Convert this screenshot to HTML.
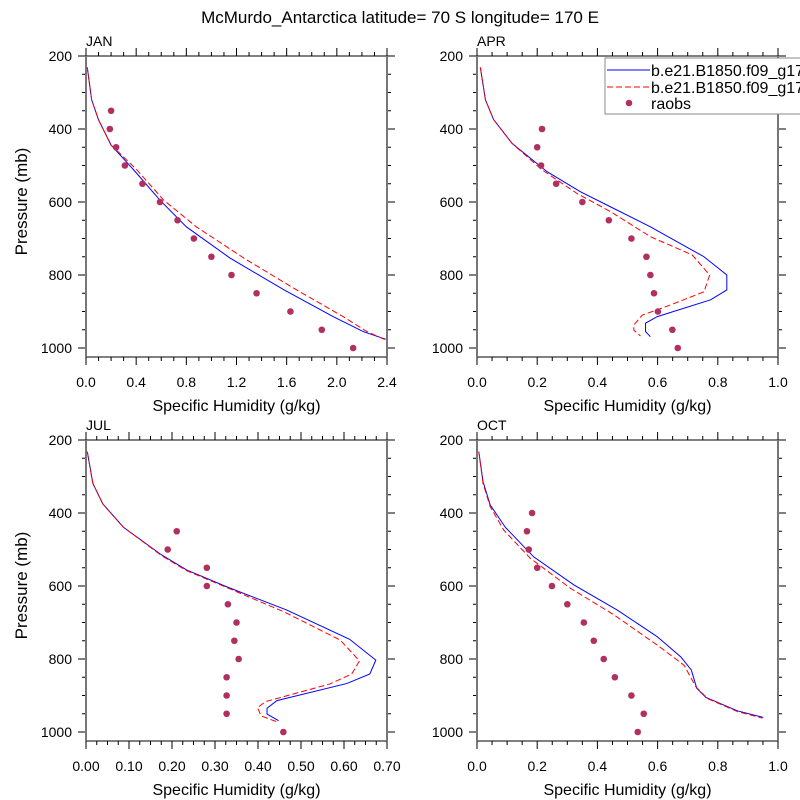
<!DOCTYPE html>
<html><head><meta charset="utf-8">
<style>
html,body{margin:0;padding:0;background:#fff;}
svg{display:block;font-family:"Liberation Sans",sans-serif;}
</style></head>
<body>
<svg id="chart" width="800" height="800" viewBox="0 0 800 800">
<rect width="800" height="800" fill="#fff"/>
<text x="400" y="23" font-size="17" text-anchor="middle">McMurdo_Antarctica  latitude= 70 S longitude= 170 E</text>
</svg>
<script>
// JAN
const janBlueQ=[0.01,0.045,0.10,0.20,0.38,0.59,0.80,1.15,1.58,1.97,2.21,2.39];
const janBlueP=[231,320,375,444,512,595,668,754,841,914,955,976];
const janRedQ=[0.01,0.045,0.10,0.20,0.40,0.62,0.88,1.26,1.68,2.05,2.24,2.39];
const janRedP=[231,320,375,444,510,595,668,754,841,914,955,978];
const janObsQ=[0.20,0.19,0.24,0.31,0.45,0.59,0.73,0.86,1.00,1.16,1.36,1.63,1.88,2.13];
const janObsP=[350,400,450,500,550,600,650,700,750,800,850,900,950,1000];
// APR
const aprBlueQ=[0.011,0.028,0.055,0.116,0.233,0.344,0.443,0.576,0.754,0.83,0.83,0.776,0.599,0.56,0.56,0.576];
const aprBlueP=[231,320,374,439,517,572,613,668,750,800,841,868,914,932,955,969];
const aprRedQ=[0.011,0.028,0.055,0.116,0.216,0.333,0.443,0.576,0.715,0.773,0.754,0.643,0.549,0.521,0.521,0.543];
const aprRedP=[231,320,374,439,512,577,626,695,745,800,846,882,910,937,951,967];
const aprObsQ=[0.216,0.20,0.213,0.263,0.35,0.438,0.513,0.563,0.576,0.588,0.601,0.649,0.667];
const aprObsP=[400,450,500,550,600,650,700,750,800,850,900,950,1000];
// JUL
const julBlueQ=[0.003,0.016,0.039,0.087,0.176,0.234,0.327,0.467,0.613,0.674,0.66,0.607,0.444,0.421,0.421,0.448];
const julBlueP=[232,319,375,439,515,556,602,666,746,803,841,867,914,935,951,969];
const julRedQ=[0.003,0.016,0.039,0.087,0.176,0.234,0.327,0.459,0.591,0.636,0.618,0.568,0.417,0.399,0.407,0.444];
const julRedP=[232,319,375,439,517,558,604,670,748,805,841,868,917,933,956,972];
const julObsQ=[0.211,0.19,0.281,0.281,0.33,0.35,0.345,0.355,0.327,0.327,0.327,0.459];
const julObsP=[450,500,550,600,650,700,750,800,850,900,950,1000];
// OCT
const octBlueQ=[0.006,0.02,0.044,0.094,0.188,0.322,0.466,0.599,0.677,0.712,0.73,0.76,0.865,0.951];
const octBlueP=[232,314,378,439,520,597,666,739,794,830,880,905,942,960];
const octRedQ=[0.006,0.02,0.044,0.089,0.177,0.31,0.455,0.599,0.688,0.727,0.765,0.865,0.948];
const octRedP=[232,319,383,447,524,606,679,762,817,876,908,944,962];
const octObsQ=[0.183,0.166,0.172,0.2,0.249,0.3,0.355,0.388,0.421,0.458,0.513,0.554,0.534];
const octObsP=[400,450,500,550,600,650,700,750,800,850,900,950,1000];

const janXTicks=["0.0","0.4","0.8","1.2","1.6","2.0","2.4"];
const aprXTicks=["0.0","0.2","0.4","0.6","0.8","1.0"];
const julXTicks=["0.00","0.10","0.20","0.30","0.40","0.50","0.60","0.70"];
const yTicks=[200,400,600,800,1000];

const NS="http://www.w3.org/2000/svg";
const svg=document.getElementById('chart');
function mk(tag,attrs,parent){const e=document.createElementNS(NS,tag);for(const k in attrs)e.setAttribute(k,attrs[k]);(parent||svg).appendChild(e);return e;}

function panel(name,x0,y0,xmax,xTicks,minorStep,blueQ,blueP,redQ,redP,obsQ,obsP,leftLabels){
  const W=301,H=301;
  const g=mk('g',{});
  
  
  const sx=v=>x0+v/xmax*W;
  const sy=p=>y0+(p-200)*0.365;
  for(let p=200;p<=1025;p+=50){
    const maj=p%200===0; const L=maj?8:4; const y=sy(p);
    mk('line',{x1:x0-L,x2:x0,y1:y,y2:y,stroke:'#000','stroke-width':1},g);
    mk('line',{x1:x0+W,x2:x0+W+L,y1:y,y2:y,stroke:'#000','stroke-width':1},g);
  }
  const nMin=Math.round(xmax/minorStep);
  const majEvery=Math.round(nMin/(xTicks.length-1));
  for(let i=0;i<=nMin;i++){
    const x=x0+i/nMin*W; const L=(i%majEvery===0)?8:4;
    mk('line',{x1:x,x2:x,y1:y0-L,y2:y0,stroke:'#000','stroke-width':1},g);
    mk('line',{x1:x,x2:x,y1:y0+H,y2:y0+H+L,stroke:'#000','stroke-width':1},g);
  }
  mk('line',{x1:x0,x2:x0+W,y1:y0,y2:y0,stroke:'#000','stroke-width':1},g);
  mk('line',{x1:x0,x2:x0+W,y1:y0+H,y2:y0+H,stroke:'#000','stroke-width':1},g);
  mk('line',{x1:x0,x2:x0,y1:y0,y2:y0+H,stroke:'#777','stroke-width':2},g);
  mk('line',{x1:x0+W,x2:x0+W,y1:y0,y2:y0+H,stroke:'#777','stroke-width':2},g);
  xTicks.forEach((t,i)=>{
    const tx=mk('text',{x:x0+i/(xTicks.length-1)*W,y:y0+H+30,'font-size':14,'text-anchor':'middle'},g);tx.textContent=t;
    
    
  });
  yTicks.forEach(p=>{
    const tx=mk('text',{x:x0-14,y:sy(p)+5,'font-size':14,'text-anchor':'end'},g);tx.textContent=p;
    
    
  });
  const xt=mk('text',{x:x0+W/2,y:y0+H+54,'font-size':16,'text-anchor':'middle'},g);
  xt.textContent='Specific Humidity (g/kg)';
  
  
  if(leftLabels){
    const yt=mk('text',{x:0,y:0,'font-size':17,'text-anchor':'middle',transform:`translate(27,${y0+H/2-5}) rotate(-90)`},g);
    yt.textContent='Pressure (mb)';
    
    
  }
  const pl=mk('text',{x:x0,y:y0-10,'font-size':14},g);
  pl.textContent=name.toUpperCase();
  
  
  const bl=mk('polyline',{points:blueQ.map((q,i)=>sx(q)+','+sy(blueP[i])).join(' '),fill:'none',stroke:'#0000ff','stroke-width':1},g);
  
  
  const rl=mk('polyline',{points:redQ.map((q,i)=>sx(q)+','+sy(redP[i])).join(' '),fill:'none',stroke:'#ff0000','stroke-width':1,'stroke-dasharray':'6,3'},g);
  
  
  obsQ.forEach((q,i)=>{
    const c=mk('circle',{cx:sx(q),cy:sy(obsP[i]),r:3.3,fill:'#b03060'},g);
    
    
  });
}
panel('jan',86,56,2.4,janXTicks,0.1,janBlueQ,janBlueP,janRedQ,janRedP,janObsQ,janObsP,true);
panel('apr',477,56,1.0,aprXTicks,0.05,aprBlueQ,aprBlueP,aprRedQ,aprRedP,aprObsQ,aprObsP,false);
panel('jul',86,440,0.7,julXTicks,0.025,julBlueQ,julBlueP,julRedQ,julRedP,julObsQ,julObsP,true);
panel('oct',477,440,1.0,aprXTicks,0.05,octBlueQ,octBlueP,octRedQ,octRedP,octObsQ,octObsP,false);

const lg=mk('g',{});


mk('rect',{x:605,y:58,width:200,height:56,fill:'#fff',stroke:'#888','stroke-width':1},lg);
mk('line',{x1:607,x2:650,y1:70,y2:70,stroke:'#0000ff','stroke-width':1},lg);
mk('line',{x1:607,x2:650,y1:87,y2:87,stroke:'#ff0000','stroke-width':1,'stroke-dasharray':'6,3'},lg);
mk('circle',{cx:629,cy:103,r:3.3,fill:'#b03060'},lg);
const lt=[["b.e21.B1850.f09_g17.",76],["b.e21.B1850.f09_g17.",93],["raobs",109]];
lt.forEach(a=>{const t=mk('text',{x:651,y:a[1],'font-size':16},lg);t.textContent=a[0];
  
  });
</script>
</body></html>
